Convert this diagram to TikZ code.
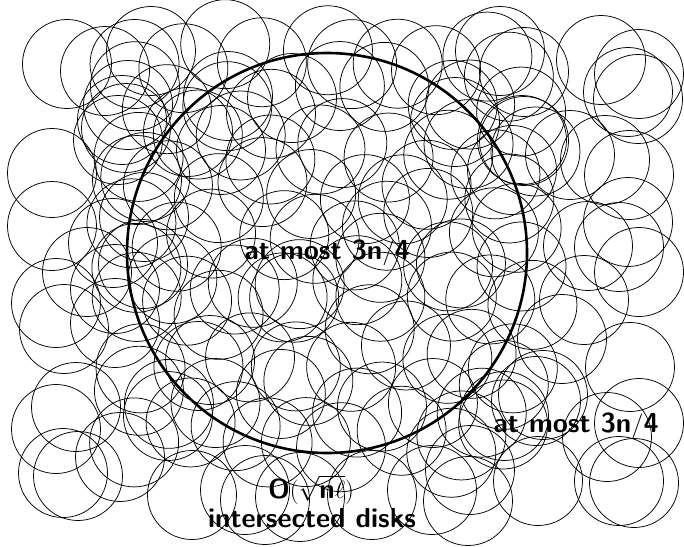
\documentclass[tikz,border=0pt]{standalone}
\begin{document}
\begin{tikzpicture}[x=1pt,y=-1pt,
  disk/.style={draw=black,line width=0.75pt},
  region/.style={draw=black,line width=2.6pt},
  lab/.style={font=\fontsize{27.5}{30}\selectfont\sffamily\bfseries,inner sep=0pt,anchor=base}]
\useasboundingbox (0,0) rectangle (684,546);
% disks seen at the borders
\foreach \cx/\cy in {
 67/64,151/51,105/71,128/105,122/120,126/128,118/140,137/180,52/173,188/132,221/150,228/96,
 500/51,524/72,601/60,639/74,628/92,638/99,522/140,524/141,570/155,605/160,629/175,512/170,455/122,
 52/226,87/272,113/243,56/303,64/329,115/289,143/264,144/217,115/323,
 619/247,639/272,628/222,588/246,584/300,562/339,
 76/407,56/429,63/473,78/476,120/457,168/416,192/495,
 630/367,639/423,619/481,634/483,538/481,536/401,543/395,468/501,607/437,504/416,
 372/495,432/490,470/470,300/497,245/490,265/500}
 \draw[disk] (\cx,\cy) circle[radius=44.5];
% disks in the middle (jittered grid)
\pgfmathsetseed{4242}
\foreach \i in {0,...,9}{
  \foreach \j in {0,...,9}{
    \pgfmathsetmacro\cx{142+42*\i+36*(rnd-0.5)}
    \pgfmathsetmacro\cy{62+42*\j+36*(rnd-0.5)}
    \draw[disk] (\cx,\cy) circle[radius=44.5];
  }
}
\coordinate (c) at (327,253);
\draw[region] (c) circle[radius=200];
\node[lab] (t1) at (327,259) {at most 3n$/$4};
\node[lab] (t2) at (576,432) {at most 3n$/$4};
\node[lab] (t3) at (311,498) {O$(\sqrt{\mbox{\sffamily\bfseries n}\ell})$};
\node[lab] (t4) at (312,527) {intersected disks};
\end{tikzpicture}
\end{document}
